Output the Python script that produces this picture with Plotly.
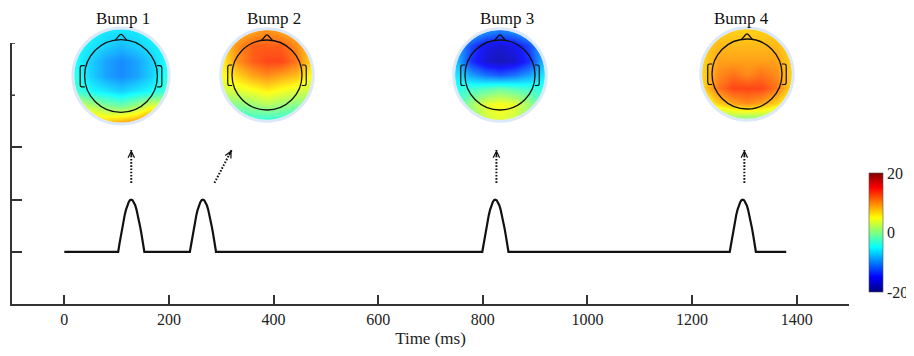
import numpy as np
import plotly.graph_objects as go

# ---------------- data ----------------
time_start = 0          # ms, start of the trial line
time_end = 1380         # ms, end of the trial line
baseline = 1.0
bump_labels = ["Bump 1", "Bump 2", "Bump 3", "Bump 4"]
bump_onsets = [103, 240, 799, 1272]      # ms
# half-sine bump profile (offset in ms from onset, height above baseline)
bump_profile_t = [0, 2.5, 5, 7.5, 10, 12.5, 15, 17.5, 20, 22.5, 25,
                  27.5, 30, 32.5, 35, 37.5, 40, 42.5, 45, 47.5, 50]
bump_profile_h = [0, 0.156, 0.309, 0.454, 0.588, 0.707, 0.809, 0.891, 0.951, 0.988, 1.0,
                  0.988, 0.951, 0.891, 0.809, 0.707, 0.588, 0.454, 0.309, 0.156, 0]

# dotted arrows (tail -> tip), data coords
arrow_x0 = [128, 287, 826, 1300]
arrow_y0 = [2.32, 2.32, 2.32, 2.32]
arrow_x1 = [128, 320, 826, 1300]
arrow_y1 = [2.95, 2.95, 2.95, 2.95]

x_ticks = [0, 200, 400, 600, 800, 1000, 1200, 1400]
y_ticks_long = [1, 2, 3]
y_ticks_short = [4, 5]
x_range = [-100, 1500]
y_range = [0, 5]

# scalp maps, microvolts, rows front (top) -> back (bottom), cols left -> right
bump1_map = [
    [-5, -5, -6, -6, -6, -5, -5],
    [-5, -6, -7, -8, -7, -6, -5],
    [-5, -7, -9, -10, -9, -7, -5],
    [-4, -7, -9, -10, -9, -7, -4],
    [-3, -5, -6, -7, -6, -5, -3],
    [4, 2, 0, -1, 1, 4, 4],
    [8, 8, 7, 8, 9, 12, 8],
]
bump2_map = [
    [7, 8, 9, 10, 9, 8, 7],
    [7, 10, 12, 12, 12, 10, 7],
    [6, 10, 12, 13, 13, 11, 7],
    [5, 7, 9, 10, 9, 8, 5],
    [3, 4, 5, 6, 5, 4, 3],
    [0, 0, 1, 2, 1, 0, 0],
    [-4, -4, -3, -3, -3, -4, -4],
]
bump3_map = [
    [-6, -8, -10, -11, -10, -8, -6],
    [-8, -13, -16, -17, -16, -13, -8],
    [-8, -14, -17, -18, -17, -14, -8],
    [-6, -9, -11, -12, -11, -9, -6],
    [-4, -3, -2, -1, -2, -3, -4],
    [-3, 1, 4, 5, 4, 1, -3],
    [-3, 0, 3, 4, 3, 0, -3],
]
bump4_map = [
    [6, 7, 7, 7, 7, 7, 6],
    [7, 8, 8, 8, 8, 8, 7],
    [7, 9, 9, 9, 9, 9, 7],
    [7, 10, 11, 10, 11, 10, 7],
    [7, 11, 13, 13, 13, 11, 7],
    [4, 7, 9, 10, 9, 7, 4],
    [-1, 0, 1, 1, 1, 0, -1],
]
scalp_maps = [bump1_map, bump2_map, bump3_map, bump4_map]
grid_coords = [-0.857, -0.571, -0.286, 0.0, 0.286, 0.571, 0.857]
color_min, color_max = -20, 20
colorbar_ticks = [-20, 0, 20]

# ---------------- layout helpers ----------------
W_FIG, H_FIG = 914, 356
OFF = 8                      # page body margin offset of the screenshot
L, R, T, B = 4, 841, 4, 296  # plot area in figure (layout) pixels
PW, PH = R - L, B - T
FONT = "Liberation Serif, Times New Roman, serif"


def px_x(p):  # screenshot pixel -> paper
    return (p - OFF - L) / PW


def px_y(p):
    return (B - (p - OFF)) / PH


jet = [[0, "rgb(0,0,128)"], [0.125, "rgb(0,0,255)"], [0.375, "rgb(0,255,255)"],
       [0.625, "rgb(255,255,0)"], [0.875, "rgb(255,0,0)"], [1, "rgb(128,0,0)"]]

fig = go.Figure()

# main bump line
line_x = [time_start]
line_y = [baseline]
for on in bump_onsets:
    for t, h in zip(bump_profile_t, bump_profile_h):
        line_x.append(on + t)
        line_y.append(baseline + h)
line_x.append(time_end)
line_y.append(baseline)
fig.add_trace(go.Scatter(x=line_x, y=line_y, mode="lines",
                         line=dict(color="#111111", width=2.2),
                         hoverinfo="skip", showlegend=False))

# main-axis pixel scales (for arrowhead direction only)
y_dom_top = px_y(43)
sx = PW / (x_range[1] - x_range[0])
sy = PH * y_dom_top / (y_range[1] - y_range[0])

# dotted arrow shafts + chevron heads
for x0, y0, x1, y1 in zip(arrow_x0, arrow_y0, arrow_x1, arrow_y1):
    fig.add_trace(go.Scatter(x=[x0, x1], y=[y0, y1], mode="lines",
                             line=dict(color="#111111", width=2, dash="1.6px,1.6px"),
                             hoverinfo="skip", showlegend=False))
    dxp, dyp = (x1 - x0) * sx, -(y1 - y0) * sy
    ln = (dxp ** 2 + dyp ** 2) ** 0.5
    fig.add_annotation(x=x1, y=y1, xref="x", yref="y",
                       ax=-dxp / ln * 7, ay=-dyp / ln * 7, text=" ",
                       width=1, height=1, borderpad=0, font=dict(size=1),
                       showarrow=True, arrowhead=5, arrowsize=0.9, arrowwidth=1.4,
                       arrowcolor="#111111", standoff=0)

# topomaps
topo_centers = [(121, 76), (267, 75), (500, 75), (747, 74)]
topo_half = [52, 50, 50, 50]
title_pos = [(123, 18.5), (274, 18.5), (507, 18.5), (741, 18.5)]
shapes = []

n = 200
ang = np.linspace(0, -2 * np.pi, n, endpoint=False)
rdisk = 0.9
circ = " ".join(f"L{rdisk*np.cos(a):.4f},{rdisk*np.sin(a):.4f}" for a in ang[1:])
mask_path = (f"M-1.05,-1.05 L1.05,-1.05 L1.05,1.05 L-1.05,1.05 Z "
             f"M{rdisk:.4f},0 {circ} Z")

for i, (zmap, (cx, cy), s) in enumerate(zip(scalp_maps, topo_centers, topo_half)):
    k = i + 2
    xa, ya = f"x{k}", f"y{k}"
    z = np.array(zmap, dtype=float)[::-1]  # bottom -> top for ascending y
    fig.add_trace(go.Heatmap(z=z, x=grid_coords, y=grid_coords, xaxis=xa, yaxis=ya,
                             coloraxis="coloraxis", zsmooth="best", opacity=0.9,
                             hoverinfo="skip"))
    fig.layout[f"xaxis{k}"] = dict(domain=[px_x(cx - s), px_x(cx + s)], range=[-1, 1],
                                   anchor=ya, visible=False, fixedrange=True)
    fig.layout[f"yaxis{k}"] = dict(domain=[px_y(cy + s), px_y(cy - s)], range=[-1, 1],
                                   anchor=xa, visible=False, fixedrange=True)
    # white mask outside the disk
    shapes.append(dict(type="path", xref=xa, yref=ya, path=mask_path,
                       fillcolor="white", line=dict(width=0), layer="above"))
    # pale halo
    shapes.append(dict(type="circle", xref=xa, yref=ya, x0=-0.925, y0=-0.925,
                       x1=0.925, y1=0.925, line=dict(color="rgba(215,230,248,0.9)", width=3),
                       layer="above"))
    # head outline
    shapes.append(dict(type="circle", xref=xa, yref=ya, x0=-0.7, y0=-0.7, x1=0.7, y1=0.7,
                       line=dict(color="#111111", width=1.3), layer="above"))
    shapes.append(dict(type="path", xref=xa, yref=ya,
                       path="M-0.11,0.69 L-0.02,0.795 Q0,0.81 0.02,0.795 L0.11,0.69",
                       line=dict(color="#111111", width=1.2), layer="above"))
    for sgn in (-1, 1):
        p = (f"M{sgn*0.695},0.20 L{sgn*0.75},0.20 Q{sgn*0.785},0.20 {sgn*0.785},0.15 "
             f"L{sgn*0.785},-0.16 Q{sgn*0.785},-0.21 {sgn*0.75},-0.21 L{sgn*0.695},-0.21")
        shapes.append(dict(type="path", xref=xa, yref=ya, path=p,
                           line=dict(color="#111111", width=1.2), layer="above"))
    tx, ty = title_pos[i]
    fig.add_annotation(x=px_x(tx), y=px_y(ty), xref="paper", yref="paper",
                       text=bump_labels[i], showarrow=False, xanchor="center",
                       yanchor="middle", font=dict(family=FONT, size=17, color="#111111"))

# short y ticks (partly hidden behind the scalp-map images in the original)
for yv in y_ticks_short:
    shapes.append(dict(type="line", xref="x", yref="y", xsizemode="pixel",
                       xanchor=x_range[0], x0=0, x1=3, y0=yv, y1=yv,
                       line=dict(color="#333333", width=1.5)))

fig.update_layout(
    width=W_FIG, height=H_FIG,
    margin=dict(l=L, r=W_FIG - R, t=T, b=H_FIG - B),
    paper_bgcolor="white", plot_bgcolor="white",
    font=dict(family=FONT, size=16, color="#222222"),
    showlegend=False,
    shapes=shapes,
    coloraxis=dict(
        colorscale=jet, cmin=color_min, cmax=color_max,
        colorbar=dict(x=px_x(869), xanchor="left", xpad=0, y=px_y(232.5),
                      yanchor="middle", ypad=0, thickness=14, lenmode="pixels", len=119,
                      tickvals=colorbar_ticks, ticktext=[str(v) for v in colorbar_ticks],
                      ticks="", outlinewidth=0.6, outlinecolor="#555555",
                      tickfont=dict(family=FONT, size=16, color="#222222")),
    ),
    xaxis=dict(range=x_range, domain=[0, 1], tickvals=x_ticks,
               ticks="inside", ticklen=9, tickwidth=1.5, tickcolor="#333333",
               showline=True, linecolor="#333333", linewidth=1.5,
               showgrid=False, zeroline=False, anchor="y",
               tickfont=dict(family=FONT, size=16, color="#222222"),
               title=dict(text="Time (ms)", font=dict(family=FONT, size=17, color="#222222"),
                          standoff=5),
               fixedrange=True),
    yaxis=dict(range=y_range, domain=[0, y_dom_top], tickvals=y_ticks_long,
               ticks="inside", ticklen=10, tickwidth=1.5, tickcolor="#333333",
               showticklabels=False, showline=True, linecolor="#333333", linewidth=1.5,
               showgrid=False, zeroline=False, anchor="x", fixedrange=True),
)

fig.write_html("out.html")
